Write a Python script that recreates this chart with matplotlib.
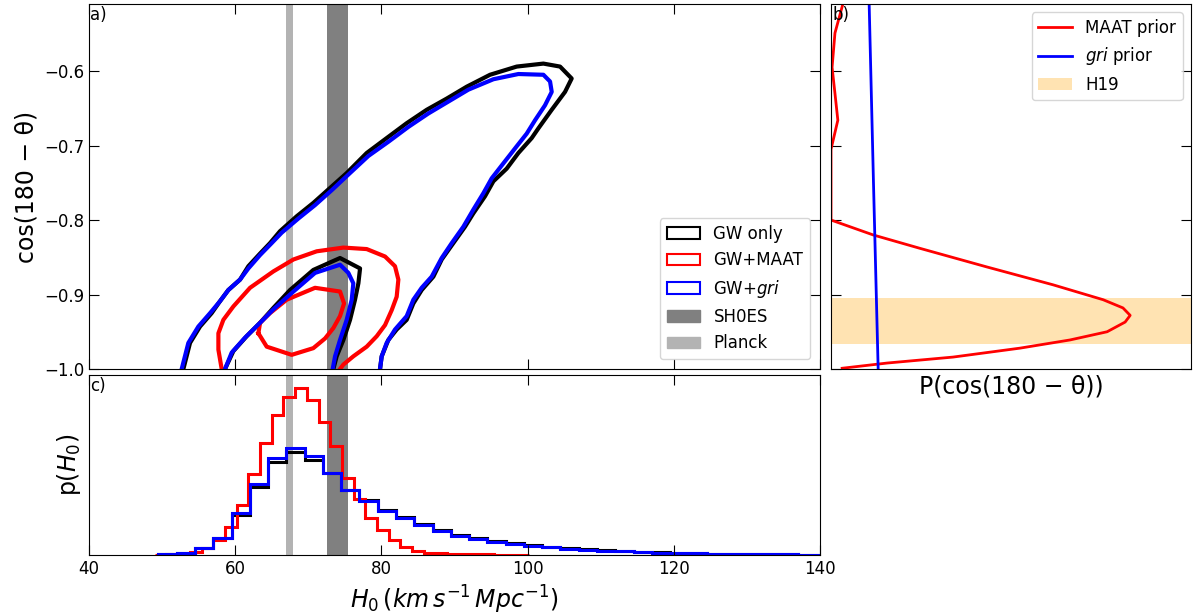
import numpy as np
import matplotlib
matplotlib.use("Agg")
import matplotlib.pyplot as plt
from matplotlib.patches import Patch

# ---- panel a: 2D credible contours (H0, cos(180-theta)) ----
GW_OUTER_H0 = [52.91, 53.82, 55.19, 56.78, 57.92, 59.06, 60.66, 61.80, 63.40, 64.76, 66.13,
               68.41, 70.69, 72.97, 75.25, 77.99, 80.72, 83.46, 86.20, 88.93, 91.67, 94.86,
               98.51, 102.16, 104.44, 106.03, 105.12, 103.30, 101.47, 100.56, 98.74, 97.14,
               95.32, 94.18, 92.58, 91.44, 89.84, 88.25, 87.11, 85.51, 84.37, 83.46, 82.09,
               80.95, 80.04, 79.81]
GW_OUTER_COS = [-1.000, -0.965, -0.943, -0.925, -0.909, -0.894, -0.880, -0.862, -0.845, -0.831,
                -0.815, -0.795, -0.777, -0.757, -0.737, -0.710, -0.690, -0.670, -0.652, -0.637,
                -0.621, -0.605, -0.594, -0.590, -0.594, -0.610, -0.628, -0.652, -0.677, -0.690,
                -0.710, -0.731, -0.748, -0.768, -0.791, -0.809, -0.831, -0.853, -0.876, -0.894,
                -0.912, -0.934, -0.947, -0.961, -0.983, -1.000]
GW_INNER_H0 = [58.61, 59.75, 61.57, 63.40, 65.22, 67.50, 70.69, 74.34, 77.08, 76.85, 76.39,
               75.71, 74.80, 73.88, 73.43]
GW_INNER_COS = [-1.000, -0.976, -0.956, -0.938, -0.918, -0.894, -0.867, -0.851, -0.865, -0.885,
                -0.907, -0.934, -0.961, -0.983, -1.000]

GRI_OUTER_H0 = [52.68, 53.59, 54.96, 56.56, 57.92, 59.06, 60.66, 61.80, 63.40, 64.99, 66.36,
                68.64, 70.92, 73.20, 75.48, 78.22, 80.95, 83.69, 86.42, 89.16, 91.90, 95.32,
                98.74, 102.16, 103.07, 103.30, 102.38, 101.02, 99.88, 98.51, 96.68, 95.09,
                93.95, 92.58, 91.21, 89.62, 88.25, 86.88, 85.51, 84.37, 83.46, 81.86, 80.72,
                80.04, 79.81]
GRI_OUTER_COS = [-1.000, -0.965, -0.943, -0.925, -0.909, -0.894, -0.880, -0.865, -0.847, -0.831,
                 -0.817, -0.798, -0.780, -0.760, -0.739, -0.714, -0.695, -0.675, -0.657, -0.641,
                 -0.625, -0.611, -0.604, -0.605, -0.614, -0.628, -0.646, -0.666, -0.684, -0.701,
                 -0.724, -0.744, -0.764, -0.786, -0.809, -0.831, -0.851, -0.876, -0.891, -0.907,
                 -0.929, -0.947, -0.965, -0.983, -1.000]
GRI_INNER_H0 = [58.61, 59.52, 61.34, 63.40, 65.22, 67.73, 70.92, 74.34, 75.48, 76.16, 75.94,
                75.25, 74.34, 73.66, 73.34]
GRI_INNER_COS = [-1.000, -0.978, -0.958, -0.938, -0.920, -0.898, -0.871, -0.860, -0.871, -0.885,
                 -0.907, -0.934, -0.961, -0.983, -1.000]

MAAT_OUTER_H0 = [58.15, 57.70, 57.70, 58.38, 59.75, 62.03, 65.22, 67.96, 71.15, 74.80, 77.99,
                 80.50, 81.86, 82.32, 82.09, 81.41, 80.50, 79.36, 77.99, 76.16, 74.80, 74.34]
MAAT_OUTER_COS = [-1.000, -0.974, -0.952, -0.934, -0.916, -0.891, -0.869, -0.853, -0.842, -0.837,
                  -0.839, -0.849, -0.862, -0.880, -0.903, -0.921, -0.941, -0.956, -0.970, -0.983,
                  -0.994, -1.000]
MAAT_INNER_H0 = [63.17, 63.40, 64.76, 67.04, 70.92, 74.34, 74.89, 74.34, 73.43, 72.29, 70.69,
                 67.73, 64.31, 63.17]
MAAT_INNER_COS = [-0.952, -0.938, -0.925, -0.907, -0.891, -0.896, -0.912, -0.929, -0.945, -0.959,
                  -0.972, -0.981, -0.970, -0.952]

# H0 measurements (km/s/Mpc)
SHOES = (72.61, 75.45)
PLANCK = (66.9, 67.9)

# ---- panel b: inclination priors ----
MAAT_PRIOR_COS = [-0.510, -0.549, -0.595, -0.630, -0.666, -0.699, -0.705, -0.800, -0.820, -0.838,
                  -0.863, -0.887, -0.907, -0.918, -0.928, -0.937, -0.950, -0.961, -0.972,
                  -0.984, -0.992, -0.999]
MAAT_PRIOR_P = [0.033, 0.011, 0.003, 0.011, 0.019, 0.003, 0.0, 0.0, 0.117, 0.247, 0.433, 0.617,
                0.756, 0.811, 0.831, 0.817, 0.767, 0.664, 0.525, 0.339, 0.156, 0.031]
GRI_PRIOR_COS = [-0.51, -0.75, -1.0]
GRI_PRIOR_P = [0.106, 0.118, 0.131]
H19 = (-0.966, -0.905)

# ---- panel c: marginal H0 histograms ----
MAAT_EDGES = [49.0, 50.6, 52.2, 53.8, 55.4, 57.0, 58.6, 60.2, 61.8, 63.4, 65.0, 66.6, 68.2,
              69.8, 71.4, 73.0, 74.6, 76.2, 77.8, 79.4, 81.0, 82.6, 84.2, 85.8, 87.4, 89.0,
              90.6, 92.2, 93.8, 95.4, 97.0, 98.6, 100.2]
MAAT_HIST = [1, 2, 3, 8, 20, 45, 85, 150, 242, 335, 420, 475, 500, 465, 400, 327, 230, 168,
             110, 75, 45, 25, 12, 7, 5, 4, 3, 2, 2, 1, 1, 1]
GW_EDGES = [49.5, 52, 54.5, 57, 59.5, 62, 64.5, 67, 69.5, 72, 74.5, 77, 79.5, 82, 84.5, 87,
            89.5, 92, 94.5, 97, 99.5, 102, 104.5, 107, 109.5, 112, 114.5, 117, 119.5, 122,
            124.5, 127, 129.5, 132, 134.5, 137, 139.5, 142]
GW_HIST = [2, 5, 20, 50, 120, 203, 278, 310, 285, 245, 195, 165, 135, 113, 92, 75, 60, 50, 42,
           35, 29, 24, 20, 17, 14, 11, 9, 8, 6, 5, 4, 3, 3, 2, 2, 1, 1]
GRI_HIST = [2, 5, 20, 50, 125, 213, 290, 322, 297, 245, 195, 162, 132, 110, 90, 72, 58, 48, 40,
            33, 28, 23, 19, 16, 13, 11, 9, 7, 6, 5, 4, 3, 3, 2, 2, 1, 1]

W, H = 1194, 616
fig = plt.figure(figsize=(W / 100, H / 100), dpi=100)
ax_a = fig.add_axes([89 / W, 1 - 369 / H, 731 / W, 365 / H])
ax_b = fig.add_axes([831 / W, 1 - 369 / H, 360 / W, 365 / H], sharey=ax_a)
ax_c = fig.add_axes([89 / W, 1 - 555 / H, 731 / W, 180 / H], sharex=ax_a)

TICKFS = 12
for ax in (ax_a, ax_b, ax_c):
    ax.tick_params(direction="in", top=True, right=True, length=7, labelsize=TICKFS)

# a) contours
for ax in (ax_a, ax_c):
    ax.axvspan(*SHOES, color="#808080", lw=0)
    ax.axvspan(*PLANCK, color="#b3b3b3", lw=0)
lw = 3
ax_a.plot(GW_OUTER_H0, GW_OUTER_COS, color="k", lw=lw)
ax_a.plot(GW_INNER_H0, GW_INNER_COS, color="k", lw=lw)
ax_a.plot(MAAT_OUTER_H0, MAAT_OUTER_COS, color="red", lw=lw)
ax_a.plot(MAAT_INNER_H0, MAAT_INNER_COS, color="red", lw=lw)
ax_a.plot(GRI_OUTER_H0, GRI_OUTER_COS, color="blue", lw=lw)
ax_a.plot(GRI_INNER_H0, GRI_INNER_COS, color="blue", lw=lw)
ax_a.set_xlim(40, 140)
ax_a.set_ylim(-1.0, -0.51)
ax_a.set_yticks([-1.0, -0.9, -0.8, -0.7, -0.6])
ax_a.tick_params(labelbottom=False)
ax_a.set_ylabel("cos(180 − θ)", fontsize=17)
ax_a.text(0.002, 0.995, "a)", transform=ax_a.transAxes, ha="left", va="top", fontsize=12)
handles = [Patch(fill=False, edgecolor="k", lw=1.5, label="GW only"),
           Patch(fill=False, edgecolor="red", lw=1.5, label="GW+MAAT"),
           Patch(fill=False, edgecolor="blue", lw=1.5, label="GW+$gri$"),
           Patch(color="#808080", label="SH0ES"),
           Patch(color="#b3b3b3", label="Planck")]
ax_a.legend(handles=handles, loc="lower right", fontsize=12, borderaxespad=0.6)

# b) priors
ax_b.axhspan(*H19, color="orange", alpha=0.3, lw=0, label="H19")
ax_b.plot(MAAT_PRIOR_P, MAAT_PRIOR_COS, color="red", lw=2, label="MAAT prior")
ax_b.plot(GRI_PRIOR_P, GRI_PRIOR_COS, color="blue", lw=2, label="$gri$ prior")
ax_b.set_xlim(0, 1)
ax_b.set_xticks([])
ax_b.tick_params(labelleft=False)
ax_b.set_xlabel("P(cos(180 − θ))", fontsize=17, labelpad=4)
ax_b.text(0.005, 0.995, "b)", transform=ax_b.transAxes, ha="left", va="top", fontsize=12)
hb, lb = ax_b.get_legend_handles_labels()
ax_b.legend(hb[1:] + hb[:1], lb[1:] + lb[:1], loc="upper right", fontsize=12)

# c) marginal histograms
ax_c.stairs(GW_HIST, GW_EDGES, color="k", lw=2.2)
ax_c.stairs(MAAT_HIST, MAAT_EDGES, color="red", lw=2.2)
ax_c.stairs(GRI_HIST, GW_EDGES, color="blue", lw=2.2)
ax_c.set_ylim(0, 540)
ax_c.set_yticks([])
ax_c.set_xticks([40, 60, 80, 100, 120, 140])
ax_c.set_ylabel("p($H_0$)", fontsize=17)
ax_c.set_xlabel(r"$H_0\,(km\,s^{-1}\,Mpc^{-1})$", fontsize=17)
ax_c.text(0.002, 0.99, "c)", transform=ax_c.transAxes, ha="left", va="top", fontsize=12)

fig.savefig("out.png", dpi=100)
